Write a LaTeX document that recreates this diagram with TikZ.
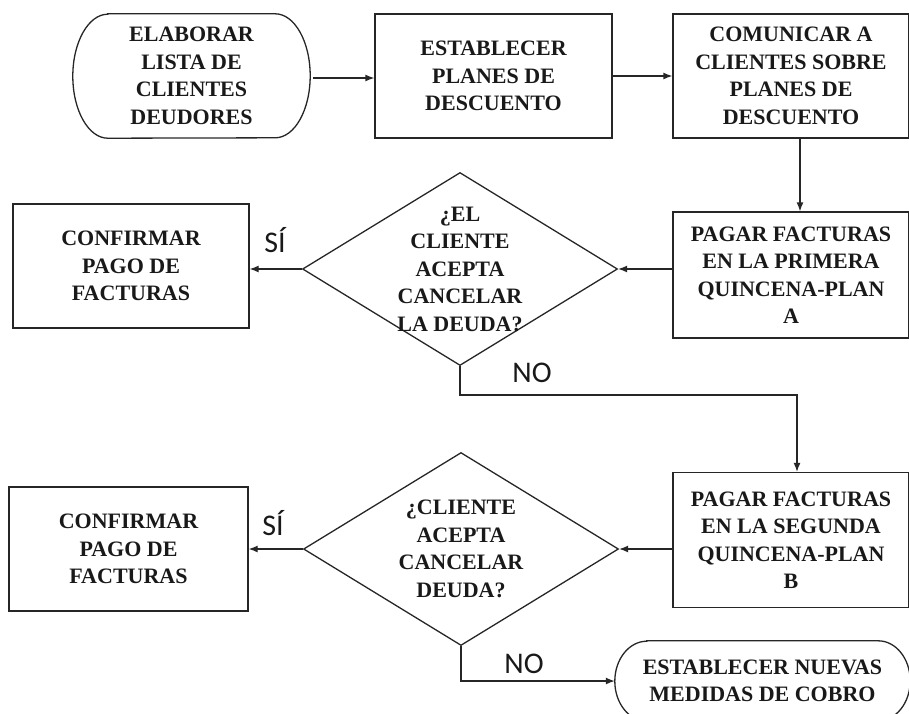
\documentclass[tikz,border=0pt]{standalone}
\usepackage{fontspec}
\setmainfont{Liberation Serif}
\newfontfamily\lblfont{Carlito}
\usetikzlibrary{arrows.meta,shapes.geometric}
\begin{document}
\begin{tikzpicture}[x=1pt,y=-1pt,
  txt/.style={align=center,font=\fontsize{22}{27.5}\selectfont\bfseries,text=black!90},
  procbox/.style={draw=black!85,line width=1.3pt,rectangle,inner sep=0pt,txt},
  termbox/.style={rectangle,inner sep=0pt,txt},
  decbox/.style={draw=black!85,line width=1.3pt,diamond,inner sep=0pt,minimum width=315pt,minimum height=193pt},
  lbl/.style={font=\lblfont\fontsize{30}{30}\selectfont,text=black!90,anchor=base},
  arr/.style={line width=1.3pt,draw=black!85,-{Latex[length=9pt,width=7pt]}},
  ln/.style={line width=1.3pt,draw=black!85}]
\useasboundingbox (0,0) rectangle (909,713);
\clip (0,0) rectangle (909,713);
% top row
\node[termbox,minimum width=237pt,minimum height=124pt] (t1) at (191.5,76) {ELABORAR\\LISTA DE\\CLIENTES\\DEUDORES};
\draw[ln] ([xshift=35pt]t1.north west) -- ([xshift=-35pt]t1.north east)
  arc[start angle=90,end angle=-90,x radius=35pt,y radius=62pt]
  -- ([xshift=35pt]t1.south west)
  arc[start angle=270,end angle=90,x radius=35pt,y radius=62pt] -- cycle;
\node[procbox,minimum width=237pt,minimum height=124pt] (b2) at (493.5,76) {ESTABLECER\\PLANES DE\\DESCUENTO};
\node[procbox,minimum width=236pt,minimum height=124pt] (b3) at (791,76) {COMUNICAR A\\CLIENTES SOBRE\\PLANES DE\\DESCUENTO};
% second row
\node[procbox,minimum width=236pt,minimum height=126pt] (pa) at (791,275) {PAGAR FACTURAS\\EN LA PRIMERA\\QUINCENA-PLAN\\A};
\node[decbox] (d1) at (460,269) {};
\node[txt] (d1t) at (d1.center) {¿EL\\CLIENTE\\ACEPTA\\CANCELAR\\LA DEUDA?};
\node[procbox,minimum width=236pt,minimum height=124pt] (c1) at (131,266) {CONFIRMAR\\PAGO DE\\FACTURAS};
% third row
\node[procbox,minimum width=236pt,minimum height=135pt] (pb) at (791,540) {PAGAR FACTURAS\\EN LA SEGUNDA\\QUINCENA-PLAN\\B};
\node[decbox] (d2) at (461,549) {};
\node[txt] (d2t) at (d2.center) {¿CLIENTE\\ACEPTA\\CANCELAR\\DEUDA?};
\node[procbox,minimum width=239pt,minimum height=124pt] (c2) at (128.5,549) {CONFIRMAR\\PAGO DE\\FACTURAS};
% final terminator
\node[termbox,minimum width=295pt,minimum height=80pt] (t2) at (762.5,681) {ESTABLECER NUEVAS\\MEDIDAS DE COBRO};
\draw[ln] ([xshift=32pt]t2.north west) -- ([xshift=-32pt]t2.north east)
  arc[start angle=90,end angle=-90,x radius=32pt,y radius=40pt]
  -- ([xshift=32pt]t2.south west)
  arc[start angle=270,end angle=90,x radius=32pt,y radius=40pt] -- cycle;
% connectors
\draw[arr] ([xshift=3pt,yshift=-2pt]t1.east) -- ([yshift=-2pt]b2.west);
\draw[arr] (b2.east) -- (b3.west);
\draw[arr] ([xshift=9pt]b3.south) -- ([xshift=9pt]pa.north);
\draw[arr] (pa.west |- d1.east) -- (d1.east);
\draw[arr] (d1.west) -- (c1.east |- d1.west);
\coordinate (k1) at (797,395);
\draw[arr] (d1.south) |- (k1) -- (k1 |- pb.north);
\draw[arr] (pb.west |- d2.east) -- (d2.east);
\draw[arr] (d2.west) -- (c2.east |- d2.west);
\draw[arr] (d2.south) |- (t2.west);
% labels
\node[lbl] (si1) at (275,252) {SÍ};
\node[lbl] (no1) at (532,382) {NO};
\node[lbl] (si2) at (273,535) {SÍ};
\node[lbl] (no2) at (524,673) {NO};
\end{tikzpicture}
\end{document}
